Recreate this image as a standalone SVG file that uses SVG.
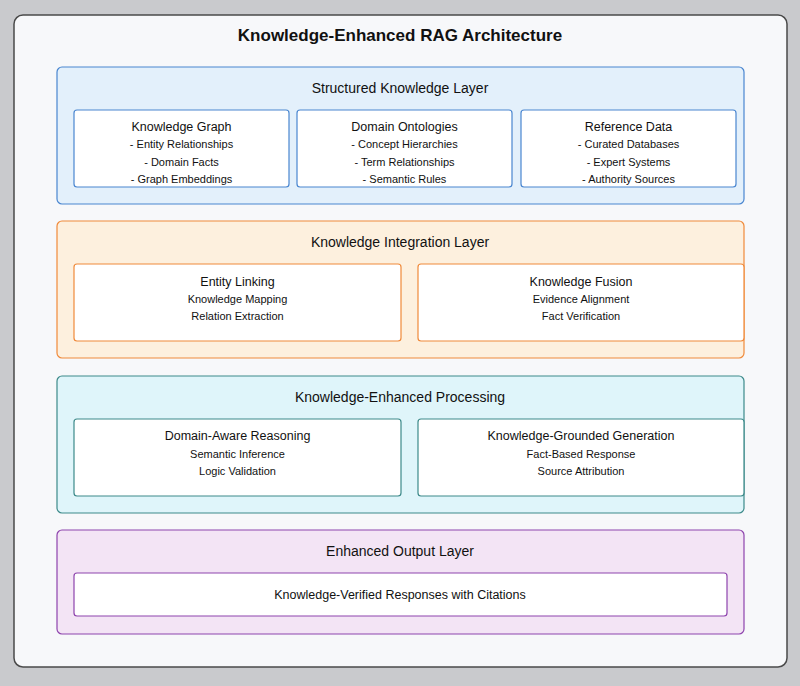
<svg xmlns="http://www.w3.org/2000/svg" width="800" height="686" viewBox="0 0 800 686">
<style>
text{font-family:"Liberation Sans",Arial,sans-serif;fill:#111;text-anchor:middle}
.title{font-size:17px;font-weight:bold}
.lt{font-size:14px}
.bt{font-size:12.5px}
.it{font-size:11px}
.inner{fill:#fff;stroke-width:1.2}
.blue .layer{fill:#e3f0fb;stroke:#4a86d0}
.blue .inner{stroke:#4a86d0}
.orange .layer{fill:#fdf0de;stroke:#f08a3a}
.orange .inner{stroke:#f08a3a}
.teal .layer{fill:#dff5fa;stroke:#3d8a8a}
.teal .inner{stroke:#3d8a8a}
.purple .layer{fill:#f3e4f5;stroke:#8e44ad}
.purple .inner{stroke:#8e44ad}
.layer{stroke-width:1.2}
</style>
<rect x="0" y="0" width="800" height="686" fill="#c9cacd"/>
<rect x="14" y="15" width="773" height="652" rx="9" fill="#f7f8fa" stroke="#4a4a4a" stroke-width="1.5"/>
<text class="title" x="400" y="41">Knowledge-Enhanced RAG Architecture</text>
<g id="layer-structured" class="blue">
<rect class="layer" x="57" y="67" width="687" height="137" rx="5"/>
<text class="lt" x="400" y="93">Structured Knowledge Layer</text>
<g id="knowledge-graph"><rect class="inner" x="74" y="110" width="215" height="77" rx="3"/>
<text class="bt" x="181.5" y="131">Knowledge Graph</text>
<text class="it" x="181.5" y="148">- Entity Relationships</text>
<text class="it" x="181.5" y="166">- Domain Facts</text>
<text class="it" x="181.5" y="183">- Graph Embeddings</text></g>
<g id="domain-ontologies"><rect class="inner" x="297" y="110" width="215" height="77" rx="3"/>
<text class="bt" x="404.5" y="131">Domain Ontologies</text>
<text class="it" x="404.5" y="148">- Concept Hierarchies</text>
<text class="it" x="404.5" y="166">- Term Relationships</text>
<text class="it" x="404.5" y="183">- Semantic Rules</text></g>
<g id="reference-data"><rect class="inner" x="521" y="110" width="215" height="77" rx="3"/>
<text class="bt" x="628.5" y="131">Reference Data</text>
<text class="it" x="628.5" y="148">- Curated Databases</text>
<text class="it" x="628.5" y="166">- Expert Systems</text>
<text class="it" x="628.5" y="183">- Authority Sources</text></g>
</g>
<g id="layer-integration" class="orange">
<rect class="layer" x="57" y="221" width="687" height="137" rx="5"/>
<text class="lt" x="400" y="247">Knowledge Integration Layer</text>
<g id="entity-linking"><rect class="inner" x="74" y="264" width="327" height="77" rx="3"/>
<text class="bt" x="237.5" y="286">Entity Linking</text>
<text class="it" x="237.5" y="303">Knowledge Mapping</text>
<text class="it" x="237.5" y="320">Relation Extraction</text></g>
<g id="knowledge-fusion"><rect class="inner" x="418" y="264" width="326" height="77" rx="3"/>
<text class="bt" x="581" y="286">Knowledge Fusion</text>
<text class="it" x="581" y="303">Evidence Alignment</text>
<text class="it" x="581" y="320">Fact Verification</text></g>
</g>
<g id="layer-processing" class="teal">
<rect class="layer" x="57" y="376" width="687" height="137" rx="5"/>
<text class="lt" x="400" y="402">Knowledge-Enhanced Processing</text>
<g id="domain-reasoning"><rect class="inner" x="74" y="419" width="327" height="77" rx="3"/>
<text class="bt" x="237.5" y="440">Domain-Aware Reasoning</text>
<text class="it" x="237.5" y="458">Semantic Inference</text>
<text class="it" x="237.5" y="475">Logic Validation</text></g>
<g id="grounded-generation"><rect class="inner" x="418" y="419" width="326" height="77" rx="3"/>
<text class="bt" x="581" y="440">Knowledge-Grounded Generation</text>
<text class="it" x="581" y="458">Fact-Based Response</text>
<text class="it" x="581" y="475">Source Attribution</text></g>
</g>
<g id="layer-output" class="purple">
<rect class="layer" x="57" y="530" width="687" height="104" rx="5"/>
<text class="lt" x="400" y="556">Enhanced Output Layer</text>
<g id="verified-responses"><rect class="inner" x="74" y="573" width="653" height="43" rx="3"/>
<text class="bt" x="400" y="599">Knowledge-Verified Responses with Citations</text></g>
</g>
<g id="connectors"/>
</svg>
